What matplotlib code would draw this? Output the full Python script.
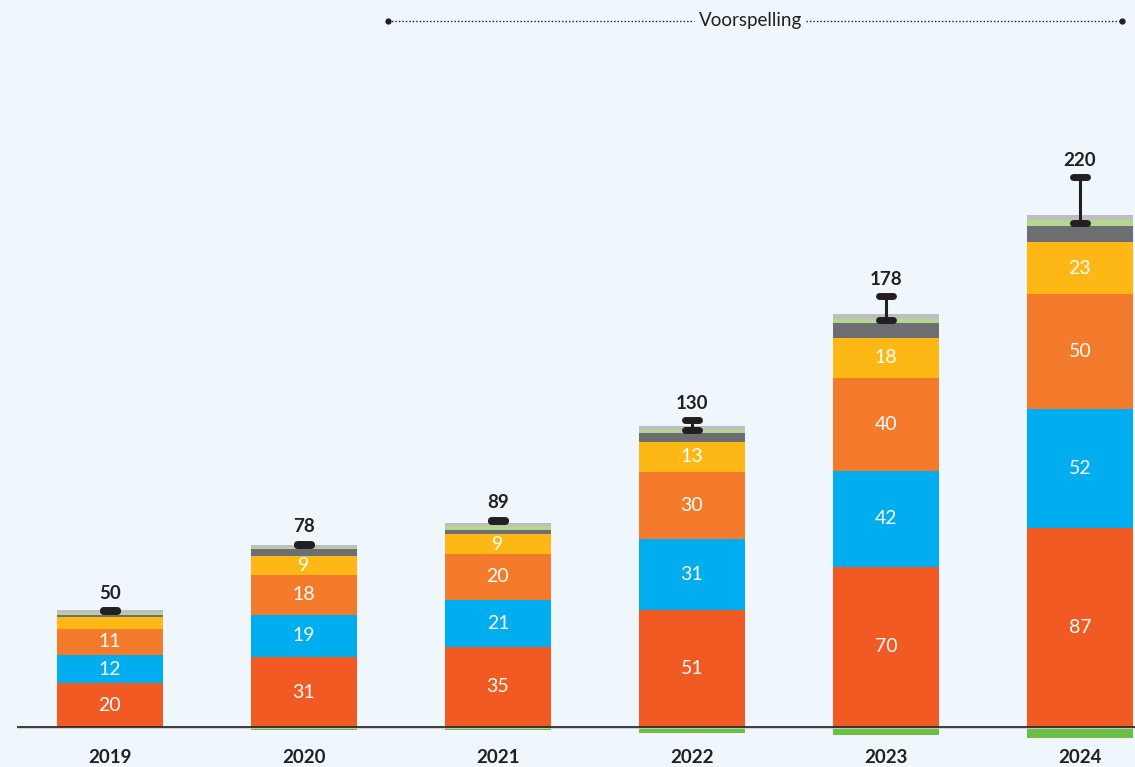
import matplotlib
matplotlib.use("Agg")
import matplotlib.pyplot as plt
import numpy as np

years = ["2019", "2020", "2021", "2022", "2023", "2024"]
seg_red = [19, 30.5, 35, 51, 70, 87]
seg_blue = [12.5, 18.5, 20.5, 31, 42, 52]
seg_orange = [11.3, 17.5, 20, 29.5, 40.5, 50]
seg_yellow = [5, 8.3, 8.7, 13, 17.5, 22.7]
seg_darkgrey = [1.3, 3, 2, 4, 6.5, 7.3]
seg_lightgreen = [0.8, 0.5, 1.7, 1.3, 1.8, 2.6]
seg_lightgrey = [1, 1, 1, 1.7, 2, 2.2]
seg_negative = [0, -1.3, -1.3, -2.6, -3.5, -4.8]
labels_red = ["20", "31", "35", "51", "70", "87"]
labels_blue = ["12", "19", "21", "31", "42", "52"]
labels_orange = ["11", "18", "20", "30", "40", "50"]
labels_yellow = ["", "9", "9", "13", "18", "23"]
totals = ["50", "78", "89", "130", "178", "220"]
err_low = [50.7, 79.3, 90, 129.7, 177.7, 220]
err_high = [51.1, 80.0, 90.5, 134, 188, 240]
forecast_label = "Voorspelling"

C_RED = "#F15A22"
C_BLUE = "#00AEEF"
C_ORANGE = "#F47B2C"
C_YELLOW = "#FDB815"
C_DGREY = "#6D6E71"
C_LGREEN = "#B5D68E"
C_LGREY = "#BCBEC0"
C_GREEN = "#6CBE45"
BG = "#EFF7FC"
TXT = "#231F20"

plt.rcParams['font.family'] = ['Lato', 'DejaVu Sans']

W, H = 1135, 767
fig = plt.figure(figsize=(W / 100, H / 100), dpi=100, facecolor=BG)
ax = fig.add_axes([17 / W, 0, (W - 17) / W, 1])
ax.set_facecolor(BG)
for s in ax.spines.values():
    s.set_visible(False)
ax.set_xticks([])
ax.set_yticks([])

x = np.arange(len(years))
bw = 0.546
ax.set_xlim(-0.479, 5.284)
ax.set_ylim(-17.5, 317.5)

bottom = np.zeros(len(years))
stack = [(seg_red, C_RED, labels_red), (seg_blue, C_BLUE, labels_blue),
         (seg_orange, C_ORANGE, labels_orange), (seg_yellow, C_YELLOW, labels_yellow),
         (seg_darkgrey, C_DGREY, None), (seg_lightgreen, C_LGREEN, None),
         (seg_lightgrey, C_LGREY, None)]
for vals, col, labs in stack:
    v = np.array(vals, dtype=float)
    ax.bar(x, v, bw, bottom=bottom, color=col, linewidth=0, zorder=2)
    if labs is not None:
        for i, t in enumerate(labs):
            if t:
                ax.text(x[i], bottom[i] + v[i] / 2, t, ha="center", va="center",
                        color="white", fontsize=14, zorder=5)
    bottom += v

ax.bar(x, seg_negative, bw, bottom=0, color=C_GREEN, linewidth=0, zorder=2)

ax.axhline(-0.6, color="#C8CDD0", lw=1.2, zorder=3)
ax.axhline(0, color=TXT, lw=1.2, zorder=3)

low = np.array(err_low)
high = np.array(err_high)
for i in range(len(years)):
    ax.plot([x[i], x[i]], [low[i], high[i]], color=TXT, lw=2.2, zorder=6)
    for yv in (low[i], high[i]):
        ax.plot([x[i] - 0.038, x[i] + 0.038], [yv, yv], color=TXT, lw=5,
                solid_capstyle="round", zorder=6)
    ax.annotate(totals[i], (x[i], high[i]), xytext=(0, 6), textcoords="offset points",
                ha="center", va="bottom", fontsize=13.5, fontweight="bold",
                color=TXT, zorder=7)

for i, y in enumerate(years):
    ax.text(x[i], -13.2, y, ha="center", va="center", fontsize=13.5,
            fontweight="bold", color=TXT)

# forecast bracket
yf = 308.5
x0, x1, xm = 1.433, 5.216, 3.30
ax.plot([x0, xm - 0.29], [yf, yf], color=TXT, lw=1, ls=(0, (1, 1.5)), zorder=3)
ax.plot([xm + 0.29, x1], [yf, yf], color=TXT, lw=1, ls=(0, (1, 1.5)), zorder=3)
ax.plot([x0, x1], [yf, yf], ls="none", marker="o", ms=3.5, color=TXT)
ax.text(xm, yf, forecast_label, ha="center", va="center", fontsize=13.5,
        color=TXT)

fig.savefig("out.png", dpi=100, facecolor=BG)
